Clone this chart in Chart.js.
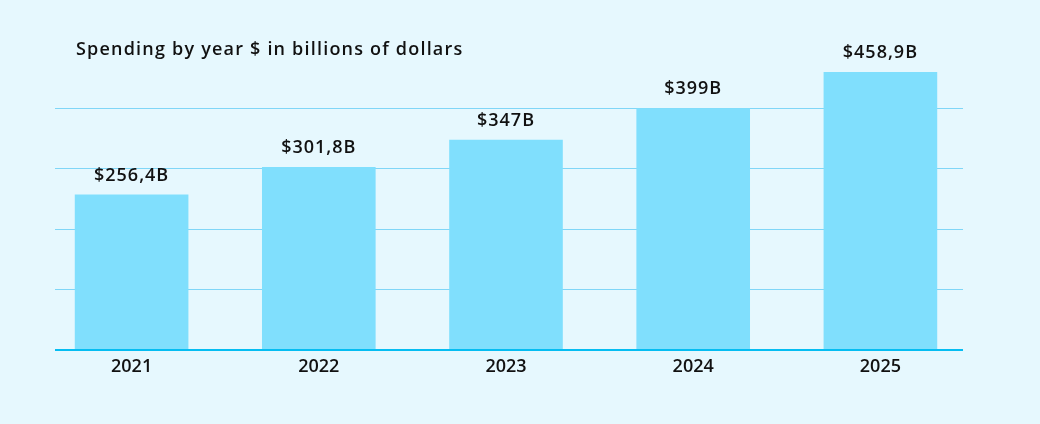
<!DOCTYPE html>
<html>
<head>
<meta charset="utf-8">
<title>Spending by year</title>
<script src="https://cdn.jsdelivr.net/npm/chart.js@4.4.1/dist/chart.umd.min.js"></script>
<style>
    html, body { margin: 0; padding: 0; background: #e6f8fe; }
    #wrap { position: relative; width: 1040px; height: 424px; }
    #title {
        position: absolute; left: 76px; top: 37px;
        font-family: "Open Sans", sans-serif; font-weight: 600;
        font-size: 18px; line-height: 22px; letter-spacing: 1.2px;
        color: #111; white-space: nowrap;
    }
</style>
</head>
<body>
<div id="wrap">
    <div id="title">Spending by year $ in billions of dollars</div>
    <canvas id="spendChart" width="1040" height="424"></canvas>
</div>
<script>
// --- DATA ---
const years = ["2021", "2022", "2023", "2024", "2025"];
const spending = [256.4, 301.8, 347, 399, 458.9];
const valueLabels = ["$256,4B", "$301,8B", "$347B", "$399B", "$458,9B"];
const gridValues = [100, 200, 300, 400];

const FONT = "'Open Sans', sans-serif";

// grid lines + base line, a bit shorter than the category area
const gridPlugin = {
    id: "shortGrid",
    beforeDatasetsDraw(chart) {
        const { ctx, chartArea, scales } = chart;
        const left = chartArea.left + 17;
        const right = chartArea.right - 11;
        ctx.save();
        ctx.lineWidth = 1.2;
        ctx.strokeStyle = "#80d6f7";
        gridValues.forEach(v => {
            const y = Math.round(scales.y.getPixelForValue(v)) + 0.5;
            ctx.beginPath();
            ctx.moveTo(left, y);
            ctx.lineTo(right, y);
            ctx.stroke();
        });
        ctx.restore();
    },
    afterDatasetsDraw(chart) {
        const { ctx, chartArea, scales } = chart;
        const left = chartArea.left + 17;
        const right = chartArea.right - 11;
        ctx.save();
        // base line
        ctx.strokeStyle = "#05bdf2";
        ctx.lineWidth = 2;
        const y0 = Math.round(scales.y.getPixelForValue(0));
        ctx.beginPath();
        ctx.moveTo(left, y0);
        ctx.lineTo(right, y0);
        ctx.stroke();

        // value labels above bars
        ctx.fillStyle = "#111";
        ctx.font = "600 18px " + FONT;
        ctx.letterSpacing = "1px";
        ctx.textAlign = "center";
        ctx.textBaseline = "alphabetic";
        chart.getDatasetMeta(0).data.forEach((bar, i) => {
            ctx.fillText(valueLabels[i], bar.x, bar.y - 14);
        });
        ctx.restore();
    }
};

new Chart(document.getElementById("spendChart"), {
    type: "bar",
    data: {
        labels: years,
        datasets: [{
            data: spending,
            backgroundColor: "#80dffd",
            borderWidth: 0,
            categoryPercentage: 1,
            barPercentage: 0.607
        }]
    },
    options: {
        responsive: false,
        animation: false,
        layout: { padding: { left: 38, right: 66, top: 47, bottom: 0 } },
        plugins: {
            legend: { display: false },
            tooltip: { enabled: false }
        },
        scales: {
            x: {
                grid: { display: false, drawTicks: false },
                border: { display: false },
                ticks: {
                    color: "#111",
                    padding: 6,
                    font: { family: FONT, size: 18, weight: 600 }
                },
                afterFit(scale) { scale.height = 74; }
            },
            y: {
                display: false,
                min: 0,
                max: 500
            }
        }
    },
    plugins: [gridPlugin]
});
</script>
</body>
</html>
